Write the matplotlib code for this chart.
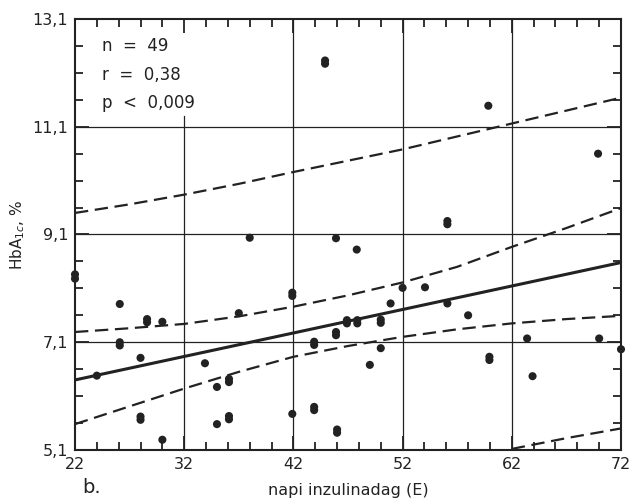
import numpy as np
import matplotlib
matplotlib.use("Agg")
import matplotlib.pyplot as plt
from matplotlib.ticker import MultipleLocator, FixedLocator

# napi inzulinadag (E) vs HbA1c (%) -- pontok leolvasva az ábráról
dose = [22, 22, 24, 26.1, 26.1, 26.1, 28, 28, 28, 28.6, 28.6, 30, 30,
        33.9, 35, 35, 36.1, 36.1, 36.1, 36.1, 37, 38, 41.9, 41.9, 41.9,
        43.9, 43.9, 43.9, 43.9, 44.9, 44.9, 45.9, 45.9, 45.9, 46, 46,
        46.9, 46.9, 47.85, 47.85, 47.8, 49, 50, 50, 50, 50.9, 52, 54.05,
        56.1, 56.1, 56.1, 58, 59.85, 59.95, 59.95, 63.4, 63.9, 70, 69.9, 72]
hba1c = [8.28, 8.36, 6.48, 7.81, 7.04, 7.10, 6.81, 5.66, 5.72, 7.47, 7.53, 7.48, 5.29,
         6.71, 6.27, 5.58, 6.36, 6.42, 5.67, 5.73, 7.64, 9.04, 7.96, 8.02, 5.77,
         7.05, 7.11, 5.84, 5.90, 12.27, 12.33, 7.23, 7.29, 9.03, 5.42, 5.48,
         7.45, 7.51, 7.45, 7.51, 8.82, 6.68, 6.99, 7.46, 7.52, 7.82, 8.11, 8.12,
         7.82, 9.29, 9.35, 7.60, 11.49, 6.77, 6.83, 7.17, 6.47, 7.17, 10.60, 6.97]

# regressziós egyenes és konfidencia-sávok (leolvasott értékek)
reg_x = [22, 72]
reg_y = [6.40, 8.58]

band_x = [22, 27, 32, 37, 42, 47, 52, 57, 62, 67, 72]
inner_hi = [7.29, 7.36, 7.44, 7.58, 7.76, 7.97, 8.21, 8.50, 8.87, 9.22, 9.59]
inner_lo = [5.58, 5.91, 6.24, 6.55, 6.83, 7.03, 7.20, 7.34, 7.45, 7.53, 7.59]
outer_hi = [9.50, 9.66, 9.84, 10.04, 10.26, 10.47, 10.68, 10.92, 11.16, 11.40, 11.64]
outer_lo_x = [62, 67, 72]
outer_lo = [5.12, 5.32, 5.50]

x_ticks = [22, 32, 42, 52, 62, 72]
y_ticks = [5.1, 7.1, 9.1, 11.1, 13.1]
y_labels = ["5,1", "7,1", "9,1", "11,1", "13,1"]
stats_txt = ["n  =  49", "r  =  0,38", "p  <  0,009"]

ink = "#222222"
plt.rcParams['font.family'] = ['DejaVu Sans']

fig = plt.figure(figsize=(6.34, 5.03), dpi=100)
ax = fig.add_axes([0.1183, 0.1054, 0.8612, 0.8568])
ax.set_xlim(22, 72)
ax.set_ylim(5.1, 13.1)

# rácsvonalak
for yv in y_ticks[1:-1]:
    ax.axhline(yv, color=ink, lw=0.9, zorder=1)
ax.axvline(32, ymax=(11.3 - 5.1) / 8.0, color=ink, lw=0.9, zorder=1)
for xv in x_ticks[2:-1]:
    ax.axvline(xv, color=ink, lw=0.9, zorder=1)

dash = (0, (6, 3))
ax.plot(reg_x, reg_y, color=ink, lw=2.2, zorder=3)
ax.plot(band_x, inner_hi, color=ink, lw=1.6, linestyle=dash, zorder=3)
ax.plot(band_x, inner_lo, color=ink, lw=1.6, linestyle=dash, zorder=3)
ax.plot(band_x, outer_hi, color=ink, lw=1.6, linestyle=dash, zorder=3)
ax.plot(outer_lo_x, outer_lo, color=ink, lw=1.6, linestyle=dash, zorder=3)

ax.scatter(dose, hba1c, s=34, color=ink, edgecolors="none", zorder=4, clip_on=False)

for sp in ax.spines.values():
    sp.set_linewidth(1.5)
    sp.set_color(ink)

ax.xaxis.set_major_locator(FixedLocator(x_ticks))
ax.xaxis.set_minor_locator(MultipleLocator(2))
ax.yaxis.set_major_locator(FixedLocator(y_ticks))
ax.yaxis.set_minor_locator(FixedLocator(np.arange(5.6, 13.1, 0.5)))
ax.set_yticklabels(y_labels)
ax.tick_params(which="both", direction="in", top=True, right=True,
               color=ink, width=1.3, labelcolor=ink, labelsize=11.5)
ax.tick_params(which="major", length=10, pad=5)
ax.tick_params(which="minor", length=6)

for i, t in enumerate(stats_txt):
    ax.text(24.5, 12.6 - i * 0.53, t, fontsize=12, color=ink, ha="left", va="center")

ax.set_xlabel("napi inzulinadag (E)", fontsize=11.5, color=ink, labelpad=8)
ax.set_ylabel("HbA$_{1c}$, %", fontsize=11, color=ink, labelpad=4)
fig.text(0.145, 0.012, "b.", fontsize=14, color=ink, ha="center", va="bottom")

fig.savefig("out.png", dpi=100)
